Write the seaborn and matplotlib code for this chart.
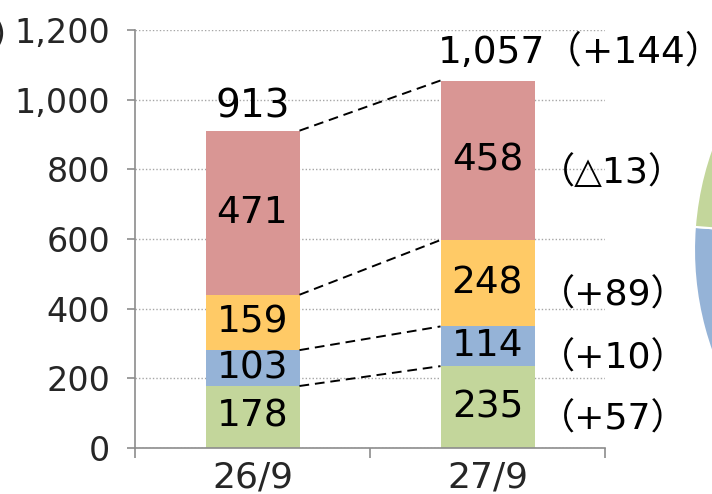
import numpy as np
import pandas as pd
import matplotlib
matplotlib.use("Agg")
import matplotlib.pyplot as plt
import seaborn as sns

# Données (億円)
periodes = ["26/9", "27/9"]
segments = ["vert", "bleu", "jaune", "rouge"]
valeurs_26 = [178, 103, 159, 471]
valeurs_27 = [235, 114, 248, 458]
totaux = ["913", "1,057（+144）"]
variations = ["（+57）", "（+10）", "（+89）", "（△13）"]
couleurs = ["#C3D69B", "#95B3D7", "#FFCA66", "#D99694"]
yticks = [0, 200, 400, 600, 800, 1000, 1200]

sns.set_theme(style="white")
plt.rcParams['font.family'] = ['DejaVu Sans', 'Noto Sans CJK JP']

df = pd.DataFrame({"26/9": valeurs_26, "27/9": valeurs_27}, index=segments)
cumul = df.cumsum()

fig = plt.figure(figsize=(7.12, 4.94), dpi=100)
ax = fig.add_axes([135 / 712, 1 - 448 / 494, 470 / 712, 418 / 494])

# barres empilées : on trace les cumuls du haut vers le bas
for seg, c in reversed(list(zip(segments, couleurs))):
    sns.barplot(x=periodes, y=cumul.loc[seg].values, color=c, saturation=1,
                width=0.4, edgecolor="none", ax=ax)

# valeurs au centre des segments
for i, p in enumerate(periodes):
    bas = cumul[p] - df[p]
    for seg in segments:
        ax.text(i, bas[seg] + df.loc[seg, p] / 2, f"{df.loc[seg, p]}",
                ha="center", va="center", fontsize=27, color="black")

# traits pointillés entre les deux barres
for seg in segments:
    ax.plot([0.2, 0.8], [cumul.loc[seg, "26/9"], cumul.loc[seg, "27/9"]],
            ls=(0, (5, 3)), color="black", lw=1.4, zorder=3)

# totaux
ax.annotate(totaux[0], (0, cumul.loc["rouge", "26/9"]), xytext=(0, 4),
            textcoords="offset points", ha="center", va="bottom",
            fontsize=28, color="black")
ax.annotate(totaux[1], (0.79, cumul.loc["rouge", "27/9"]), xytext=(0, 7),
            textcoords="offset points", ha="left", va="bottom",
            fontsize=27, color="black")

# variations à droite
bas27 = cumul["27/9"] - df["27/9"]
for seg, txt in zip(segments, variations):
    ax.annotate(txt, (1.22, bas27[seg] + df.loc[seg, "27/9"] / 2), xytext=(0, -9),
                textcoords="offset points", ha="left", va="center",
                fontsize=26, color="black", annotation_clip=False)

ax.set_xlim(-0.5, 1.5)
ax.set_ylim(0, 1200)
ax.set_yticks(yticks)
ax.set_yticklabels([f"{v:,}" for v in yticks], fontsize=24)
ax.set_xlabel("")
ax.set_ylabel("")
ax.tick_params(axis="x", length=0, labelsize=26, pad=9)
ax.tick_params(axis="y", length=6, width=1.2, color="#8c8c8c", direction="out",
               left=True, pad=12)
ax.set_xticks([-0.5, 0.5, 1.5], minor=True)
ax.tick_params(axis="x", which="minor", length=7, width=1.2, color="#8c8c8c",
               direction="out", bottom=True)
ax.grid(axis="y", ls=(0, (1, 1.5)), color="#a6a6a6", lw=1)
ax.set_axisbelow(True)
for s in ["top", "right"]:
    ax.spines[s].set_visible(False)
for s in ["left", "bottom"]:
    ax.spines[s].set_color("#8c8c8c")
    ax.spines[s].set_linewidth(1.2)

fig.text(6 / 712, 1 - 35 / 494, "(億円)", ha="right", va="center", fontsize=23,
         family=['DejaVu Sans', 'Noto Sans CJK JP'])

# camembert coupé à droite
pie_ax = fig.add_axes([694 / 712, -57 / 494, 602 / 712, 602 / 494])
ordre = [1, 2, 3, 0]
pie_ax.pie([valeurs_27[k] for k in ordre], colors=[couleurs[k] for k in ordre],
           startangle=175.6, counterclock=True,
           wedgeprops=dict(edgecolor="white", linewidth=1.5))
pie_ax.set_xlim(-1, 1)
pie_ax.set_ylim(-1, 1)
pie_ax.set_axis_off()

fig.savefig("out.png", dpi=100)
